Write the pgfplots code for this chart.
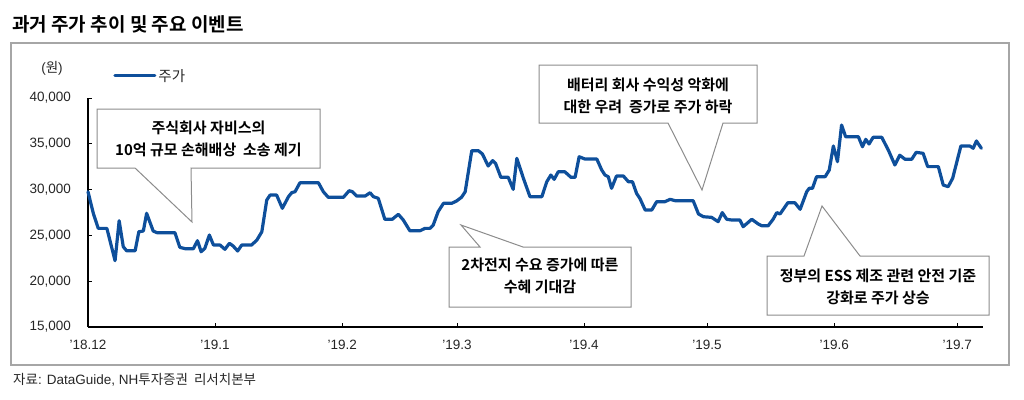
\documentclass[border=0pt]{standalone}
\usepackage{pgfplots}
\pgfplotsset{compat=1.18}
\usepackage{pgfplotstable}
\usepackage{fontspec}
\setmainfont{Liberation Sans}
\newfontfamily\kr{Noto Sans CJK KR}[BoldFont={Noto Sans CJK KR Bold}]
\definecolor{lineblue}{HTML}{0E4F9B}
\definecolor{framegray}{HTML}{A6A6A6}
\definecolor{callgray}{HTML}{8C8C8C}
\definecolor{txt}{HTML}{262626}

\pgfplotstableread{
d v
0 29770
1.3 27400
2.5 25770
4.6 25770
6.6 22240
7.6 26600
8.6 23770
9.4 23330
11.5 23330
12.4 25400
13.5 25480
14.3 27410
15.9 25480
16.8 25300
21.2 25300
22.4 23700
23.7 23550
25.7 23550
26.7 24420
27.6 23220
28.5 23590
29.6 25040
30.6 23950
32.2 23950
33.4 23480
34.5 24140
35.4 23840
36.5 23300
37.5 23950
39.9 23950
41.2 24500
42.4 25400
43.6 28860
44.4 29400
46.0 29410
47.4 27960
48.9 29230
49.7 29670
50.5 29770
51.7 30750
56.2 30750
57.4 29770
58.6 29160
62.3 29160
63.7 29880
64.5 29770
65.5 29300
67.6 29300
68.8 29660
69.6 29230
70.8 29050
72.4 26760
74.2 26760
75.7 27300
76.9 26680
78.5 25510
81.0 25510
82.2 25770
83.4 25770
84.2 26130
85.4 27590
86.7 28500
88.7 28500
89.9 28760
91.1 29160
92.0 29770
93.6 34250
95.2 34250
96.2 33890
97.6 32580
98.7 33160
99.4 32870
100.7 31340
102.5 31340
103.7 30030
104.6 33410
106.2 31230
107.8 29230
110.7 29230
111.9 30860
112.9 31590
113.7 31120
114.7 31950
116.3 31950
117.8 31340
118.8 31340
119.8 33590
121.2 33340
124.1 33340
125.3 32140
126.1 31590
126.9 31410
127.7 30140
128.9 31480
130.6 31480
131.8 30860
132.8 30860
133.8 29590
134.6 29050
135.9 27770
137.5 27770
138.7 28680
140.7 28680
142.0 28940
143.2 28790
147.6 28790
148.9 27340
150.1 27040
152.1 26970
153.7 26500
154.7 27490
155.8 26760
157.0 26680
159.0 26680
159.8 25950
161.9 26760
163.5 26240
164.3 26060
165.9 26060
167.1 26760
168.0 27490
168.8 27340
170.7 28570
172.4 28570
173.7 27850
175.3 29770
175.9 30140
176.7 30140
177.7 31410
179.8 31410
180.8 32140
181.8 34760
182.8 33050
183.8 37050
184.8 35770
187.9 35770
188.9 34680
189.7 35490
190.5 34980
191.5 35710
193.6 35710
195.2 34320
196.8 32690
198.0 33750
199.3 33310
200.9 33310
202.0 34070
203.7 33960
204.8 32510
207.4 32510
208.6 30500
209.8 30320
210.9 31240
212.9 34760
215.1 34760
215.9 34510
216.7 35310
217.9 34510
}\price

\begin{document}
\begin{tikzpicture}
\useasboundingbox (0pt,0pt) rectangle (1024pt,-399pt);
% title
\node[anchor=base west, inner sep=0pt, text=black] at (12pt,-31pt) {\kr\bfseries\fontsize{19}{22}\selectfont 과거 주가 추이 및 주요 이벤트};
% frame
\draw[framegray, line width=1.5pt] (11pt,-43pt) rectangle (1009pt,-365pt);
% source
\node[anchor=base west, inner sep=0pt, text=txt] at (13pt,-384pt) {\fontsize{13.5}{15}\selectfont {\kr 자료}: DataGuide, NH{\kr 투자증권\ \ 리서치본부}};
% unit
\node[text=txt, inner sep=0pt] at (52pt,-68pt) {\fontsize{13.5}{15}\selectfont ({\kr 원})};

\begin{axis}[
  at={(88pt,-327pt)}, anchor=south west,
  scale only axis, width=895pt, height=229pt,
  xmin=0, xmax=218.3, ymin=15000, ymax=40000,
  axis lines=left, axis line style={black, line width=1.3pt, -},
  xtick={0,31,62,90,121,151,182,212},
  xticklabels={'18.12,'19.1,'19.2,'19.3,'19.4,'19.5,'19.6,'19.7},
  ytick={15000,20000,25000,30000,35000,40000},
  scaled y ticks=false,
  yticklabel={\pgfmathprintnumber[fixed, precision=0, 1000 sep={,}, assume math mode=true]{\tick}},
  tick align=inside, major tick length=4pt,
  tick style={black, line width=0.8pt},
  ticklabel style={font=\fontsize{13.5}{15}\selectfont, text=txt},
  yticklabel style={anchor=east, inner sep=0pt, xshift=-17pt},
  xticklabel style={anchor=north, inner sep=0pt, yshift=-13pt},
  legend style={at={(0.028,1.097)}, anchor=west, draw=none, fill=none,
    font=\kr\fontsize{14.5}{16}\selectfont, text=txt, inner sep=0pt},
  legend image code/.code={\draw[#1] (0pt,0pt) -- (40pt,0pt);},
  clip=false,
]
\addplot[lineblue, line width=3.2pt, line join=round, line cap=round] table[x=d, y=v] {\price};
\addlegendentry{주가}
\end{axis}

% callouts
\tikzset{call/.style={draw=callgray, fill=white, line width=1pt, line join=miter}}
\draw[call] (97pt,-109pt) -- (320pt,-109pt) -- (320pt,-168pt) -- (191pt,-168pt) -- (192pt,-222pt) -- (135pt,-168pt) -- (97pt,-168pt) -- cycle;
\node[text=black, align=center, font=\kr\bfseries\fontsize{15}{22}\selectfont] at (208.5pt,-139pt) {주식회사 자비스의\\10억 규모 손해배상\ \ 소송 제기};

\draw[call] (449pt,-247pt) -- (480pt,-247pt) -- (461pt,-225pt) -- (523pt,-247pt) -- (631pt,-247pt) -- (631pt,-307pt) -- (449pt,-307pt) -- cycle;
\node[text=black, align=center, font=\kr\bfseries\fontsize{15}{22}\selectfont] at (540pt,-276pt) {2차전지 수요 증가에 따른\\수혜 기대감};

\draw[call] (539pt,-65pt) -- (757pt,-65pt) -- (757pt,-123pt) -- (723pt,-123pt) -- (702pt,-190pt) -- (668pt,-123pt) -- (539pt,-123pt) -- cycle;
\node[text=black, align=center, font=\kr\bfseries\fontsize{15}{22}\selectfont] at (648pt,-96pt) {배터리 회사 수익성 악화에\\대한 우려\ \ 증가로 주가 하락};

\draw[call] (767pt,-256pt) -- (804pt,-256pt) -- (822pt,-206pt) -- (860pt,-256pt) -- (989pt,-256pt) -- (989pt,-315pt) -- (767pt,-315pt) -- cycle;
\node[text=black, align=center, font=\kr\bfseries\fontsize{15}{22}\selectfont] at (878pt,-287pt) {정부의 ESS 제조 관련 안전 기준\\강화로 주가 상승};
\end{tikzpicture}
\end{document}
